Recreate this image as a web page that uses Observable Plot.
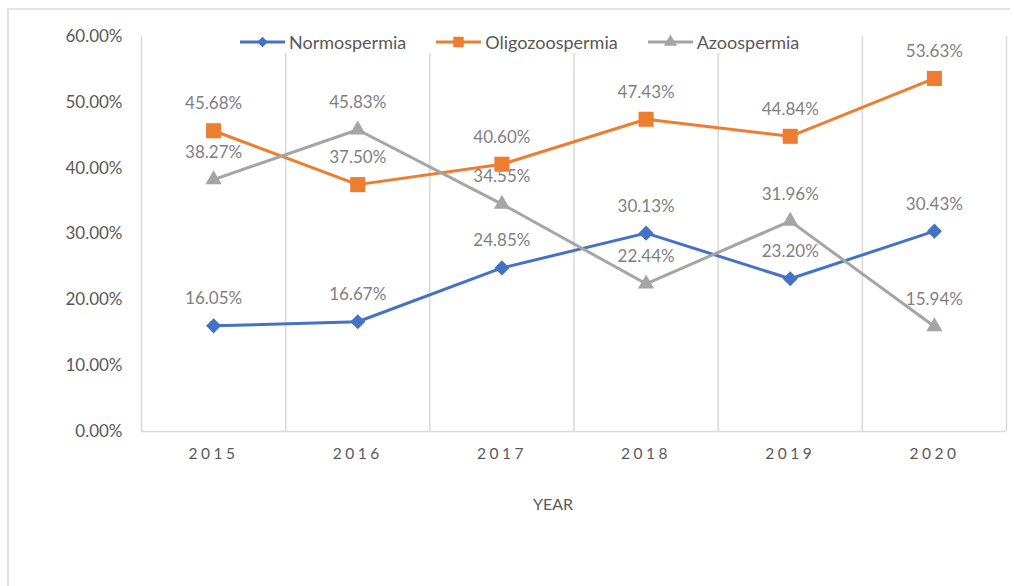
<!DOCTYPE html>
<html>
<head>
<meta charset="utf-8">
<script src="https://cdn.jsdelivr.net/npm/d3@7"></script>
<script src="https://cdn.jsdelivr.net/npm/@observablehq/plot@0.6"></script>
<style>
  html, body { margin: 0; padding: 0; background: #fff; }
  #wrap { position: relative; width: 1014px; height: 586px; overflow: hidden; background: #fff; font-family: Lato, "Open Sans", sans-serif; }
  #frame { position: absolute; left: 7px; top: 8px; width: 1003px; height: 600px; border-top: 2px solid #e3e3e3; border-left: 2px solid #e3e3e3; box-sizing: border-box; pointer-events: none; }
  #legend { position: absolute; top: 31px; left: 240px; display: flex; align-items: center; background: #fff; font-size: 18px; color: #595959; line-height: 22px; }
  .item { display: flex; align-items: center; margin-right: 30px; }
  .item svg { margin-right: 4px; }
</style>
</head>
<body>
<div id="wrap">
  <div id="chart"></div>
  <div id="legend"></div>
  <div id="frame"></div>
</div>
<script>
const years = [2015, 2016, 2017, 2018, 2019, 2020];
const normospermia = [16.05, 16.67, 24.85, 30.13, 23.20, 30.43];
const oligozoospermia = [45.68, 37.50, 40.60, 47.43, 44.84, 53.63];
const azoospermia = [38.27, 45.83, 34.55, 22.44, 31.96, 15.94];
const seriesNames = ["Normospermia", "Oligozoospermia", "Azoospermia"];
const seriesColors = ["#4472C4", "#ED7D31", "#A5A5A5"];
const seriesSymbols = ["diamond2", "square", "triangle"];
const yTicks = [0, 10, 20, 30, 40, 50, 60];

const seriesValues = [normospermia, oligozoospermia, azoospermia];
const rows = [];
seriesNames.forEach((name, i) => {
  years.forEach((yr, j) => rows.push({series: name, year: yr, value: seriesValues[i][j]}));
});
const bounds = d3.range(years[0] - 0.5, years[years.length - 1] + 1, 1);

const dotSizes = {Normospermia: 6.8, Oligozoospermia: 8.5, Azoospermia: 6};

const chart = Plot.plot({
  width: 1014,
  height: 586,
  marginLeft: 141,
  marginRight: 8,
  marginTop: 36,
  marginBottom: 155,
  style: {fontFamily: "Lato, 'Open Sans', sans-serif", background: "transparent"},
  x: {domain: [years[0] - 0.5, years[years.length - 1] + 0.5]},
  y: {domain: [0, 60]},
  r: {type: "identity"},
  color: {domain: seriesNames, range: seriesColors},
  symbol: {domain: seriesNames, range: seriesSymbols},
  marks: [
    Plot.ruleX(bounds, {y1: 0, y2: 60, stroke: "#d9d9d9", strokeWidth: 1.5}),
    Plot.ruleY([0], {stroke: "#d9d9d9", strokeWidth: 1.5}),
    Plot.axisY({ticks: yTicks, tickSize: 0, tickPadding: 19, tickFormat: d => d.toFixed(2) + "%", fontSize: 17, fill: "#595959", label: null}),
    Plot.axisX({ticks: years, tickSize: 0, tickPadding: 16, tickFormat: d => String(d), fontSize: 15.5, fill: "#595959", label: "YEAR", labelAnchor: "center", labelOffset: 78, labelArrow: "none"}),
    Plot.text(rows, {x: "year", y: "value", text: d => d.value.toFixed(2) + "%", dy: -27, fill: "#7f7f7f", fontSize: 17}),
    Plot.line(rows, {x: "year", y: "value", z: "series", stroke: "series", strokeWidth: 3}),
    Plot.dot(rows, {x: "year", y: "value", symbol: "series", fill: "series", stroke: "none", r: d => dotSizes[d.series]})
  ]
});
document.getElementById("chart").appendChild(chart);
d3.select(chart).selectAll('g[aria-label="x-axis tick label"] text').style("letter-spacing", "3.5px");
d3.select(chart).selectAll('g[aria-label="x-axis label"] text').style("font-size", "16px").style("fill", "#595959").attr("dx", -21);

const legend = document.getElementById("legend");
seriesNames.forEach((name, i) => {
  const item = document.createElement("div");
  item.className = "item";
  const sym = d3.symbol().type(i === 0 ? d3.symbolDiamond2 : i === 1 ? d3.symbolSquare : d3.symbolTriangle).size(i === 0 ? 70 : i === 1 ? 110 : 75)();
  item.innerHTML = `<svg width="45" height="16"><line x1="0" x2="45" y1="8" y2="8" stroke="${seriesColors[i]}" stroke-width="3"/><path d="${sym}" transform="translate(22.5,8)" fill="${seriesColors[i]}"/></svg><span>${name}</span>`;
  legend.appendChild(item);
});
</script>
</body>
</html>
